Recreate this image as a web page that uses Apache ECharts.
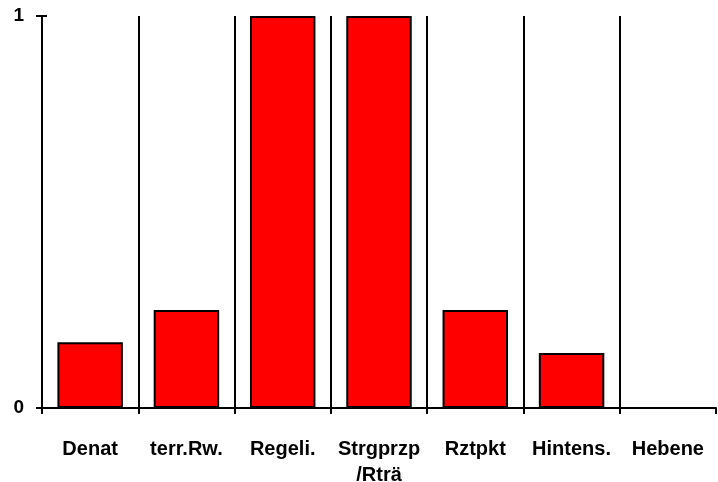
<!DOCTYPE html>
<html>
<head>
<meta charset="utf-8">
<script src="https://cdn.jsdelivr.net/npm/echarts@6/dist/echarts.min.js"></script>
<style>
    html, body { margin: 0; padding: 0; background: #fff; }
    #chart { width: 718px; height: 482px; }
</style>
</head>
<body>
<div id="chart"></div>
<script>
    var categories = ['Denat', 'terr.Rw.', 'Regeli.', 'Strgprzp\n/Rträ', 'Rztpkt', 'Hintens.', 'Hebene'];
    var values = [0.168, 0.25, 1, 1, 0.25, 0.14, 0];
    var yTicks = [0, 1];

    var myChart = echarts.init(document.getElementById('chart'));
    var font = 'Liberation Sans, Arial, sans-serif';
    var option = {
        animation: false,
        grid: { left: 42, right: 2, top: 16, bottom: 74, outerBoundsMode: 'none' },
        xAxis: {
            type: 'category',
            data: categories,
            axisLine: { lineStyle: { color: '#000', width: 2 } },
            axisTick: { show: true, interval: 0, length: 6, lineStyle: { color: '#000', width: 2 } },
            axisLabel: {
                interval: 0,
                color: '#000', fontFamily: font, fontWeight: 'bold', fontSize: 20,
                margin: 28, lineHeight: 26
            },
            splitLine: {
                show: true,
                interval: 0,
                showMinLine: false,
                showMaxLine: false,
                lineStyle: { color: '#000', width: 2 }
            }
        },
        yAxis: [{
            type: 'value',
            min: yTicks[0],
            max: yTicks[yTicks.length - 1],
            interval: 1,
            axisLine: { show: true, lineStyle: { color: '#000', width: 2 } },
            axisTick: { show: true, length: 6, lineStyle: { color: '#000', width: 2 } },
            axisLabel: {
                color: '#000', fontFamily: font, fontWeight: 'bold', fontSize: 19,
                margin: 18, padding: [6, 0, 0, 0]
            },
            splitLine: { show: false }
        }, {
            // inner half of the crossing y ticks
            type: 'value',
            position: 'left',
            min: yTicks[0],
            max: yTicks[yTicks.length - 1],
            interval: 1,
            axisLine: { show: false },
            axisTick: { show: true, inside: true, length: 5, lineStyle: { color: '#000', width: 2 } },
            axisLabel: { show: false },
            splitLine: { show: false }
        }],
        series: [{
            type: 'bar',
            data: values,
            barCategoryGap: '32%',
            itemStyle: { color: '#ff0000', borderColor: '#000', borderWidth: 2 }
        }]
    };
    myChart.setOption(option);
</script>
</body>
</html>
